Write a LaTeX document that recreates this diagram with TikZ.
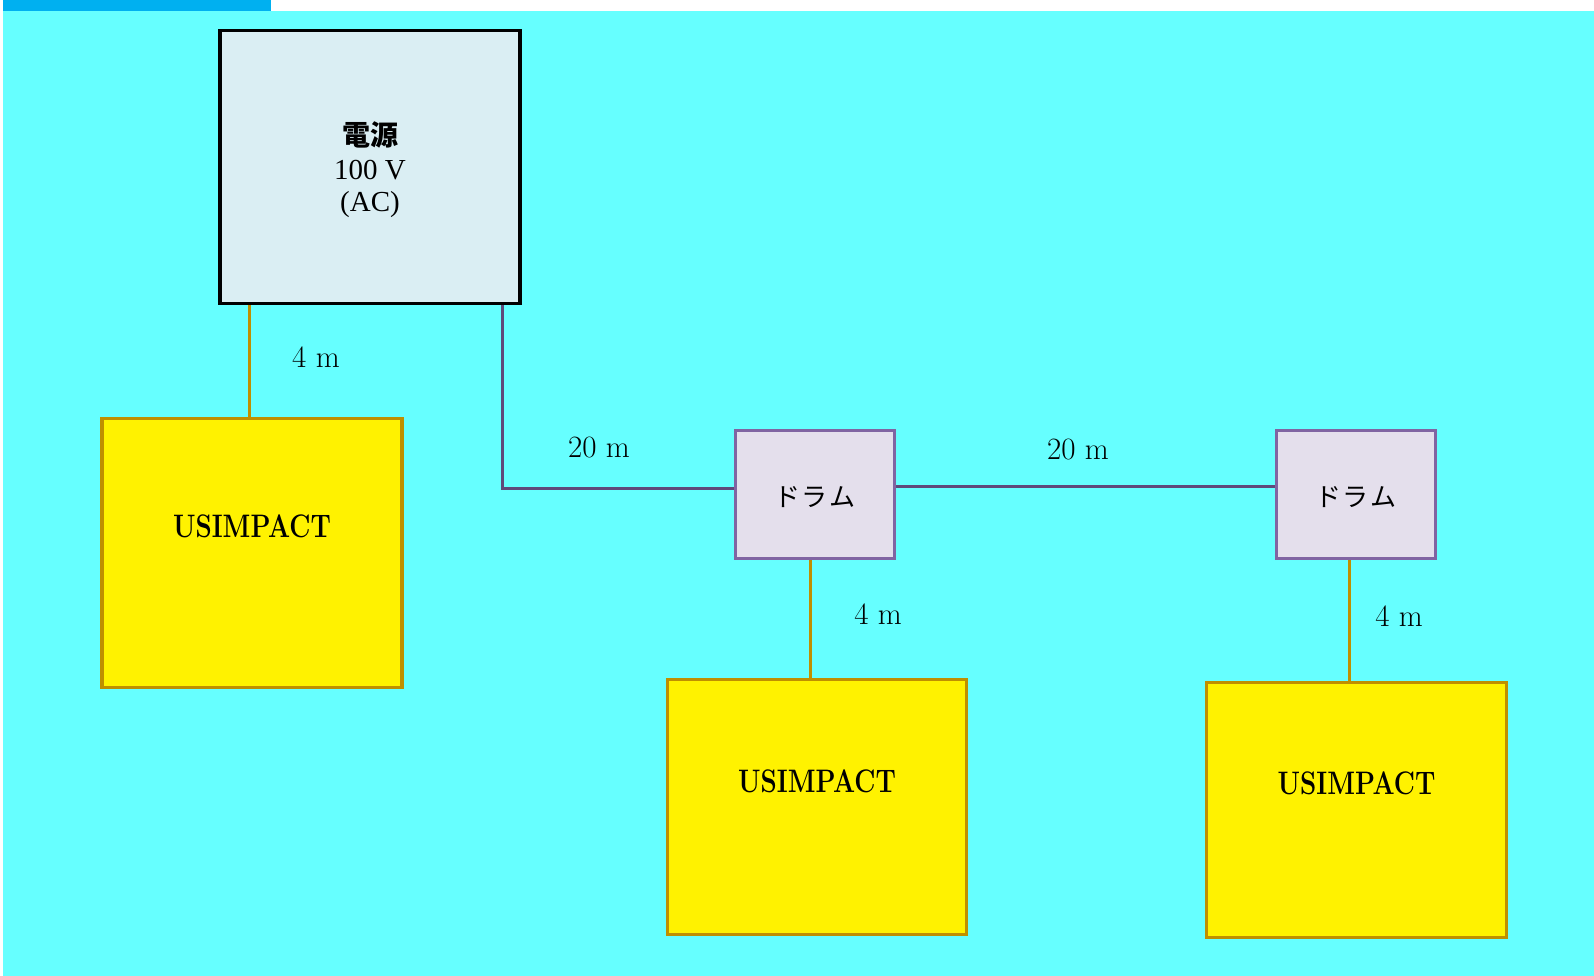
\documentclass[tikz,border=0pt]{standalone}
\usepackage{fontspec}
\usepackage{graphicx}
\newfontfamily\jpfont{Noto Sans CJK JP}
\newfontfamily\timesfont{Liberation Serif}
\definecolor{sheet}{HTML}{66FFFF}
\definecolor{topbar}{HTML}{00B0F0}
\definecolor{powerfill}{HTML}{DAEEF3}
\definecolor{drumfill}{HTML}{E4DFEC}
\definecolor{drumline}{HTML}{8064A2}
\definecolor{feedline}{HTML}{5F497A}
\definecolor{gold}{HTML}{BF8F00}

\begin{document}
\begin{tikzpicture}[x=1pt,y=-1pt,
    powerbox/.style={draw=black,line width=3.5pt,fill=powerfill,inner sep=0pt,
      minimum width=300pt,minimum height=273pt},
    powertext/.style={inner sep=0pt,align=center,
      font=\timesfont\fontsize{29}{32}\selectfont},
    drumbox/.style={draw=drumline,line width=3.5pt,fill=drumfill,inner sep=0pt,
      minimum width=159pt,minimum height=128pt},
    drumtext/.style={inner sep=0pt,font=\jpfont\fontsize{26}{30}\selectfont},
    usibox/.style={draw=gold,line width=3.5pt,fill=yellow,inner sep=0pt,minimum width=300pt},
    usitext/.style={inner sep=0pt,font=\bfseries\fontsize{31}{36}\selectfont},
    lenlabel/.style={inner sep=0pt,font=\fontsize{31}{36}\selectfont},
    cable/.style={draw=gold,line width=3pt},
    feed/.style={draw=feedline,line width=3pt}]
  \useasboundingbox (0,0) rectangle (1594,976);
  % background
  \fill[white] (0,0) rectangle (1594,976);
  \fill[sheet] (3,11) rectangle (1594,976);
  \fill[topbar] (3,0) rectangle (271,11);

  % boxes
  \node[powerbox] (power) at (370,167) {};
  \node[powertext] (powert) at ([yshift=-3pt]power.center)
    {{\jpfont\bfseries\fontsize{28}{33}\selectfont 電源}\\[2pt] 100 V\\ (AC)};
  \node[usibox,minimum height=269pt] (usi1) at (252,553) {};
  \node[drumbox] (drum1) at (815,494.5) {};
  \node[drumbox] (drum2) at (1356,494.5) {};
  \node[drumtext] (drum1t) at ([yshift=-3pt]drum1.center) {ド\kern2ptラ\kern2ptム};
  \node[drumtext] (drum2t) at ([yshift=-3pt]drum2.center) {ド\kern2ptラ\kern2ptム};
  \node[usibox,minimum width=299pt,minimum height=255pt] (usi2) at (817,807) {};
  \node[usibox,minimum height=255pt] (usi3) at (1356.5,810) {};
  \node[usitext] (usi1t) at ([yshift=27pt]usi1.center) {\scalebox{0.84}[1.05]{USIMPACT}};
  \node[usitext] (usi2t) at ([yshift=26pt]usi2.center) {\scalebox{0.84}[1.05]{USIMPACT}};
  \node[usitext] (usi3t) at ([yshift=27pt]usi3.center) {\scalebox{0.84}[1.05]{USIMPACT}};

  % cables
  \draw[cable] ([xshift=-3pt]usi1.north |- power.south) -- ([xshift=-3pt]usi1.north);
  \draw[feed] (power.south -| 502,0) |- ([yshift=6.5pt]drum1.west);
  \draw[feed] ([yshift=8.5pt]drum1.east) -- ([yshift=8.5pt]drum2.west);
  \draw[cable] ([xshift=-5pt]drum1.south) -- ([xshift=-5pt]drum1.south |- usi2.north);
  \draw[cable] ([xshift=-7pt]drum2.south) -- ([xshift=-7pt]drum2.south |- usi3.north);

  % lengths
  \node[lenlabel] (len1) at (316,357) {4 m};
  \node[lenlabel] (len2) at (599,447) {20 m};
  \node[lenlabel] (len3) at (1078,449) {20 m};
  \node[lenlabel] (len4) at (878,614) {4 m};
  \node[lenlabel] (len5) at (1399,616) {4 m};
\end{tikzpicture}
\end{document}
